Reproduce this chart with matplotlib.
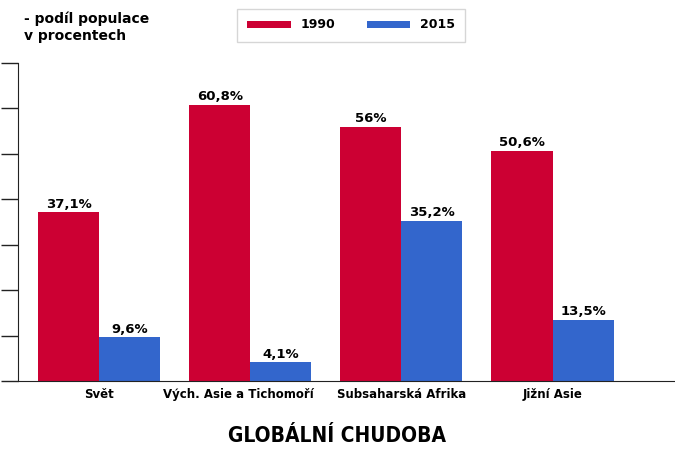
import matplotlib
matplotlib.use("Agg")
import matplotlib.pyplot as plt
import matplotlib.transforms as mtransforms
import numpy as np

categories = ["Svět", "Vých. Asie a Tichomoří", "Subsaharská Afrika", "Jižní Asie"]
v1990 = [37.1, 60.8, 56.0, 50.6]
v2015 = [9.6, 4.1, 35.2, 13.5]
lab1990 = ["37,1%", "60,8%", "56%", "50,6%"]
lab2015 = ["9,6%", "4,1%", "35,2%", "13,5%"]

red = "#CC0033"
blue = "#3366CC"

fig = plt.figure(figsize=(6.75, 4.5), dpi=100)
ax = fig.add_axes([18/675, 69/450, 1-18/675, 318/450])
x = np.arange(len(categories))
w = 0.404
ax.bar(x - w/2, v1990, w, color=red, label="1990")
ax.bar(x + w/2, v2015, w, color=blue, label="2015")
for i in range(len(x)):
    ax.text(x[i]-w/2, v1990[i]+0.4, lab1990[i], ha="center", va="bottom", fontsize=9.5, fontweight="semibold")
    ax.text(x[i]+w/2, v2015[i]+0.4, lab2015[i], ha="center", va="bottom", fontsize=9.5, fontweight="semibold")
ax.set_xlim(-0.536, 3.81)
ax.set_ylim(0, 70)
ax.set_yticks(np.arange(0, 71, 10))
ax.set_yticklabels([])
ax.tick_params(axis="y", direction="out", length=12, width=1, color="#222")
ax.set_xticks(x)
ax.set_xticklabels(categories, fontsize=8.5, fontweight="semibold")
ax.tick_params(axis="x", length=0, pad=5)
lbl = ax.get_xticklabels()[1]
lbl.set_transform(lbl.get_transform() + mtransforms.ScaledTranslation(-0.12, 0, fig.dpi_scale_trans))
for s in ["top", "right"]:
    ax.spines[s].set_visible(False)
ax.spines["bottom"].set_color("#222")
ax.spines["left"].set_color("#222")

fig.text(0.035, 0.975, "- podíl populace\nv procentech", ha="left", va="top", fontsize=10, fontweight="semibold", linespacing=1.3)
leg = fig.legend(loc="upper center", bbox_to_anchor=(0.52, 0.995), ncol=2, frameon=True, fancybox=False,
                 handlelength=3.5, handleheight=0.5, columnspacing=2.5, prop={"weight": "bold", "size": 9},
                 edgecolor="#cccccc", borderpad=0.8)
fig.text(0.5, 0.03, "GLOBÁLNÍ CHUDOBA", ha="center", va="center", fontsize=15, fontweight="bold",
         family="Liberation Sans Narrow", fontstretch="condensed")
fig.savefig("out.png", dpi=100)
